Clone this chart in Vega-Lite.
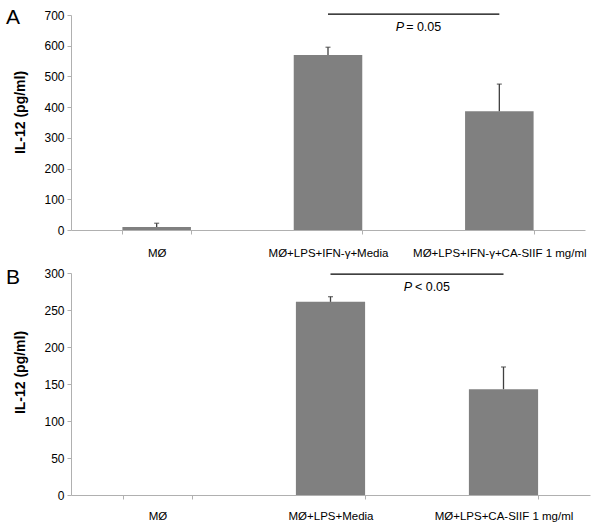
{
  "$schema": "https://vega.github.io/schema/vega-lite/v6.json",
  "background": "white",
  "padding": {"left": 5, "top": 7, "right": 5, "bottom": 1},
  "spacing": 8,
  "config": {
    "font": "Liberation Sans",
    "view": {"stroke": null},
    "axis": {"labelFont": "Liberation Sans", "labelFontSize": 12, "labelColor": "#000", "domainColor": "#b0b0b0", "tickColor": "#b0b0b0", "grid": false, "tickSize": 4, "titleFont": "Liberation Sans", "titleColor": "#000", "labelOverlap": false},
    "axisX": {"labelFontSize": 11.5},
    "title": {"font": "Liberation Sans", "fontSize": 21, "fontWeight": "normal", "color": "#000", "anchor": "start", "frame": "bounds"}
  },
  "resolve": {"scale": {"x": "independent", "y": "independent"}},
  "vconcat": [
    {
      "width": 514, "height": 215,
      "title": {"text": "A", "dx": -8, "dy": 19, "offset": 0},
      "data": {"values": [
        {"g": "MØ", "v": 10, "e": 12},
        {"g": "MØ+LPS+IFN-γ+Media", "v": 570, "e": 25},
        {"g": "MØ+LPS+IFN-γ+CA-SIIF 1 mg/ml", "v": 387, "e": 88}
      ]},
      "layer": [
        {
          "mark": {"type": "bar", "color": "#808080"},
          "encoding": {
            "x": {"field": "g", "type": "nominal", "sort": null, "scale": {"paddingInner": 0.6, "paddingOuter": 0.3}, "axis": {"title": null, "labelAngle": 0, "labelPadding": 13, "labelLimit": 400, "tickBand": "extent"}},
            "y": {"field": "v", "type": "quantitative", "scale": {"domain": [0, 700], "nice": false}, "axis": {"values": [0, 100, 200, 300, 400, 500, 600, 700], "title": "IL-12 (pg/ml)", "titleFontSize": 14, "titleFontWeight": "bold", "titlePadding": 16, "labelPadding": 3, "titleY": 97}}
          }
        },
        {
          "transform": [{"calculate": "datum.v + datum.e", "as": "top"}],
          "mark": {"type": "rule", "color": "#404040", "strokeWidth": 1.3},
          "encoding": {
            "x": {"field": "g", "type": "nominal", "sort": null},
            "y": {"field": "v", "type": "quantitative", "axis": {"values": [0, 100, 200, 300, 400, 500, 600, 700], "title": "IL-12 (pg/ml)", "titleFontSize": 14, "titleFontWeight": "bold", "titlePadding": 16, "labelPadding": 3, "titleY": 97}},
            "y2": {"field": "top"}
          }
        },
        {
          "transform": [{"calculate": "datum.v + datum.e", "as": "top"}],
          "mark": {"type": "tick", "color": "#404040", "size": 5, "thickness": 1.3, "orient": "horizontal"},
          "encoding": {
            "x": {"field": "g", "type": "nominal", "sort": null},
            "y": {"field": "top", "type": "quantitative", "axis": {"values": [0, 100, 200, 300, 400, 500, 600, 700], "title": "IL-12 (pg/ml)", "titleFontSize": 14, "titleFontWeight": "bold", "titlePadding": 16, "labelPadding": 3, "titleY": 97}}
          }
        },
        {
          "data": {"values": [{"a": "MØ+LPS+IFN-γ+Media", "b": "MØ+LPS+IFN-γ+CA-SIIF 1 mg/ml", "y": 703}]},
          "mark": {"type": "rule", "color": "#000", "strokeWidth": 1.3, "clip": false},
          "encoding": {
            "x": {"field": "a", "type": "nominal", "sort": null},
            "x2": {"field": "b"},
            "y": {"field": "y", "type": "quantitative", "axis": {"values": [0, 100, 200, 300, 400, 500, 600, 700], "title": "IL-12 (pg/ml)", "titleFontSize": 14, "titleFontWeight": "bold", "titlePadding": 16, "labelPadding": 3, "titleY": 97}}
          }
        },
        {
          "data": {"values": [{"a": "MØ+LPS+IFN-γ+Media", "t": "P", "y": 662}]},
          "mark": {"type": "text", "fontSize": 12.5, "fontStyle": "italic", "align": "left", "baseline": "middle", "color": "#000"},
          "encoding": {
            "x": {"field": "a", "type": "nominal", "sort": null, "bandPosition": 1.49},
            "y": {"field": "y", "type": "quantitative", "axis": {"values": [0, 100, 200, 300, 400, 500, 600, 700], "title": "IL-12 (pg/ml)", "titleFontSize": 14, "titleFontWeight": "bold", "titlePadding": 16, "labelPadding": 3, "titleY": 97}},
            "text": {"field": "t"}
          }
        },
        {
          "data": {"values": [{"a": "MØ+LPS+IFN-γ+Media", "t": "= 0.05", "y": 662}]},
          "mark": {"type": "text", "fontSize": 12.5, "align": "left", "baseline": "middle", "color": "#000"},
          "encoding": {
            "x": {"field": "a", "type": "nominal", "sort": null, "bandPosition": 1.64},
            "y": {"field": "y", "type": "quantitative", "axis": {"values": [0, 100, 200, 300, 400, 500, 600, 700], "title": "IL-12 (pg/ml)", "titleFontSize": 14, "titleFontWeight": "bold", "titlePadding": 16, "labelPadding": 3, "titleY": 97}},
            "text": {"field": "t"}
          }
        }
      ]
    },
    {
      "width": 519, "height": 222,
      "title": {"text": "B", "dx": -8, "dy": 21, "offset": 0},
      "data": {"values": [
        {"g": "MØ", "v": 0, "e": 0},
        {"g": "MØ+LPS+Media", "v": 261, "e": 7},
        {"g": "MØ+LPS+CA-SIIF 1 mg/ml", "v": 143, "e": 30}
      ]},
      "layer": [
        {
          "mark": {"type": "bar", "color": "#808080"},
          "encoding": {
            "x": {"field": "g", "type": "nominal", "sort": null, "scale": {"paddingInner": 0.6, "paddingOuter": 0.3}, "axis": {"title": null, "labelAngle": 0, "labelPadding": 11, "labelLimit": 400, "tickBand": "extent"}},
            "y": {"field": "v", "type": "quantitative", "scale": {"domain": [0, 300], "nice": false}, "axis": {"values": [0, 50, 100, 150, 200, 250, 300], "title": "IL-12 (pg/ml)", "titleFontSize": 14, "titleFontWeight": "bold", "titlePadding": 16, "labelPadding": 3, "titleY": 99}}
          }
        },
        {
          "transform": [{"filter": "datum.e > 0"}, {"calculate": "datum.v + datum.e", "as": "top"}],
          "mark": {"type": "rule", "color": "#404040", "strokeWidth": 1.3},
          "encoding": {
            "x": {"field": "g", "type": "nominal", "sort": null},
            "y": {"field": "v", "type": "quantitative", "axis": {"values": [0, 50, 100, 150, 200, 250, 300], "title": "IL-12 (pg/ml)", "titleFontSize": 14, "titleFontWeight": "bold", "titlePadding": 16, "labelPadding": 3, "titleY": 99}},
            "y2": {"field": "top"}
          }
        },
        {
          "transform": [{"filter": "datum.e > 0"}, {"calculate": "datum.v + datum.e", "as": "top"}],
          "mark": {"type": "tick", "color": "#404040", "size": 5, "thickness": 1.3, "orient": "horizontal"},
          "encoding": {
            "x": {"field": "g", "type": "nominal", "sort": null},
            "y": {"field": "top", "type": "quantitative", "axis": {"values": [0, 50, 100, 150, 200, 250, 300], "title": "IL-12 (pg/ml)", "titleFontSize": 14, "titleFontWeight": "bold", "titlePadding": 16, "labelPadding": 3, "titleY": 99}}
          }
        },
        {
          "data": {"values": [{"a": "MØ+LPS+Media", "b": "MØ+LPS+CA-SIIF 1 mg/ml", "y": 298.6}]},
          "mark": {"type": "rule", "color": "#000", "strokeWidth": 1.3, "clip": false},
          "encoding": {
            "x": {"field": "a", "type": "nominal", "sort": null},
            "x2": {"field": "b"},
            "y": {"field": "y", "type": "quantitative", "axis": {"values": [0, 50, 100, 150, 200, 250, 300], "title": "IL-12 (pg/ml)", "titleFontSize": 14, "titleFontWeight": "bold", "titlePadding": 16, "labelPadding": 3, "titleY": 99}}
          }
        },
        {
          "data": {"values": [{"a": "MØ+LPS+Media", "t": "P", "y": 281}]},
          "mark": {"type": "text", "fontSize": 12.5, "fontStyle": "italic", "align": "left", "baseline": "middle", "color": "#000"},
          "encoding": {
            "x": {"field": "a", "type": "nominal", "sort": null, "bandPosition": 1.56},
            "y": {"field": "y", "type": "quantitative", "axis": {"values": [0, 50, 100, 150, 200, 250, 300], "title": "IL-12 (pg/ml)", "titleFontSize": 14, "titleFontWeight": "bold", "titlePadding": 16, "labelPadding": 3, "titleY": 99}},
            "text": {"field": "t"}
          }
        },
        {
          "data": {"values": [{"a": "MØ+LPS+Media", "t": "< 0.05", "y": 281}]},
          "mark": {"type": "text", "fontSize": 12.5, "align": "left", "baseline": "middle", "color": "#000"},
          "encoding": {
            "x": {"field": "a", "type": "nominal", "sort": null, "bandPosition": 1.72},
            "y": {"field": "y", "type": "quantitative", "axis": {"values": [0, 50, 100, 150, 200, 250, 300], "title": "IL-12 (pg/ml)", "titleFontSize": 14, "titleFontWeight": "bold", "titlePadding": 16, "labelPadding": 3, "titleY": 99}},
            "text": {"field": "t"}
          }
        }
      ]
    }
  ]
}
